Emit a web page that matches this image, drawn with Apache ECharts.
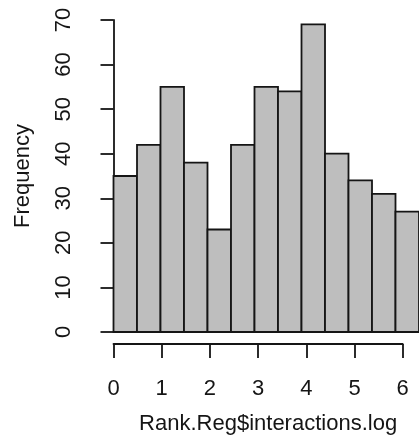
<!DOCTYPE html>
<html>
<head>
<meta charset="utf-8">
<script src="https://cdn.jsdelivr.net/npm/echarts@6/dist/echarts.min.js"></script>
<style>
html,body{margin:0;padding:0;background:#fff;}
#chart{width:419px;height:437px;}
</style>
</head>
<body>
<div id="chart"></div>
<script>
// Histogram data (bin edges and counts)
const binStart = [0, 0.5, 1, 1.5, 2, 2.5, 3, 3.5, 4, 4.5, 5, 5.5, 6];
const binEnd   = [0.5, 1, 1.5, 2, 2.5, 3, 3.5, 4, 4.5, 5, 5.5, 6, 6.5];
const counts   = [35, 42, 55, 38, 23, 42, 55, 54, 69, 40, 34, 31, 27];
const xTicks   = [0, 1, 2, 3, 4, 5, 6];
const yTicks   = [0, 10, 20, 30, 40, 50, 60, 70];
const xTitle = 'Rank.Reg$interactions.log';
const yTitle = 'Frequency';

const FONT = '"Liberation Sans", Arial, sans-serif';
const TXT = '#151515';
const LINE = '#151515';
const LW = 1.8;

const chart = echarts.init(document.getElementById('chart'), null, {renderer: 'canvas'});
const barData = binStart.map((s, i) => [s, binEnd[i], counts[i]]);

chart.setOption({
  animation: false,
  backgroundColor: '#fff',
  grid: [
    {left: 113.5, top: 20, width: 313.3, height: 312},
    {left: 113.5, top: 343, width: 289.2, height: 1}
  ],
  xAxis: [
    {type: 'value', gridIndex: 0, min: 0, max: 6.5, show: false},
    {
      type: 'value', gridIndex: 1, min: xTicks[0], max: xTicks[xTicks.length - 1], interval: 1,
      position: 'bottom',
      axisLine: {show: true, lineStyle: {color: LINE, width: LW}},
      axisTick: {show: true, inside: false, length: 14, lineStyle: {color: LINE, width: LW}},
      splitLine: {show: false},
      axisLabel: {margin: 34, fontSize: 22, fontFamily: FONT, color: TXT, showMinLabel: true, showMaxLabel: true},
      name: xTitle, nameLocation: 'middle', nameGap: 69,
      nameTextStyle: {fontSize: 22, fontFamily: FONT, color: TXT, padding: [0, 0, 0, 20]}
    }
  ],
  yAxis: [
    {
      type: 'value', gridIndex: 0, min: yTicks[0], max: yTicks[yTicks.length - 1], interval: 10,
      offset: 13.5,
      axisLine: {show: true, lineStyle: {color: LINE, width: LW}},
      axisTick: {show: true, inside: false, length: 13, lineStyle: {color: LINE, width: LW}},
      splitLine: {show: false},
      axisLabel: {rotate: 90, margin: 25, fontSize: 22, fontFamily: FONT, color: TXT, showMinLabel: true, showMaxLabel: true},
      name: yTitle, nameLocation: 'middle', nameRotate: 90, nameGap: 66,
      nameTextStyle: {fontSize: 22, fontFamily: FONT, color: TXT}
    },
    {type: 'value', gridIndex: 1, show: false, min: 0, max: 1}
  ],
  series: [{
    type: 'custom',
    xAxisIndex: 0, yAxisIndex: 0,
    data: barData,
    clip: false,
    renderItem: function (params, api) {
      const p0 = api.coord([api.value(0), api.value(2)]);
      const p1 = api.coord([api.value(1), 0]);
      return {
        type: 'rect',
        shape: {x: p0[0], y: p0[1], width: p1[0] - p0[0], height: p1[1] - p0[1]},
        style: {fill: '#bebebe', stroke: LINE, lineWidth: LW}
      };
    }
  }]
});
</script>
</body>
</html>
